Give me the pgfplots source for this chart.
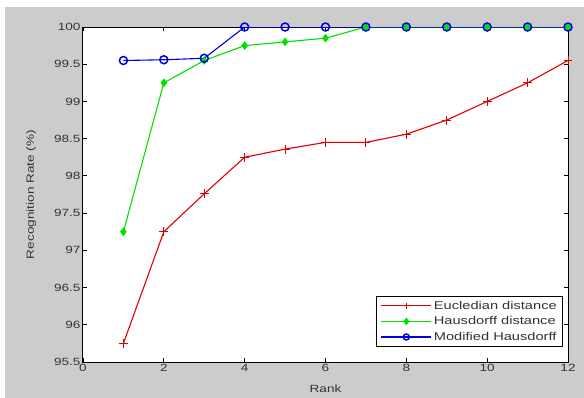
\documentclass[border=0pt]{standalone}
\usepackage{pgfplots}
\pgfplotsset{compat=1.18}
\usepackage{fontspec}
\setmainfont{Liberation Sans}[FakeStretch=1.3]
\definecolor{bggray}{RGB}{204,204,204}
\definecolor{mred}{RGB}{225,0,0}
\definecolor{mgreen}{RGB}{0,225,0}
\definecolor{mblue}{RGB}{0,0,225}
\begin{document}
\begin{tikzpicture}[x=1bp,y=1bp]
\fill[white] (-83bp,-36bp) rectangle (501bp,362bp);
\fill[bggray] (-78bp,-36bp) rectangle (501bp,355bp);
\begin{axis}[
  at={(0,0)}, anchor=south west,
  scale only axis, width=485bp, height=335bp,
  xmin=0, xmax=12, ymin=95.5, ymax=100,
  xtick={0,2,...,12},
  ytick={95.5,96,96.5,97,97.5,98,98.5,99,99.5,100},
  /pgf/number format/assume math mode=true,
  tick align=inside,
  tick style={black, line width=0.8bp},
  major tick length=4bp,
  axis line style={black, line width=1bp},
  axis background/.style={fill=white},
  ticklabel style={font=\fontsize{10.5}{11}\selectfont, text=black!80},
  xticklabel style={yshift=1bp},
  yticklabel style={xshift=1bp, /pgf/number format/.cd, fixed, precision=1},
  xlabel={Rank}, ylabel={Recognition Rate (\%)},
  label style={font=\fontsize{10.5}{11}\selectfont, text=black!80},
  xlabel style={at={(axis description cs:0.5,-0.081)}, anchor=center},
  ylabel style={at={(axis description cs:-0.107,0.5)}, anchor=center},
  legend style={at={(axis description cs:0.99,0.197)}, anchor=north east, draw=black, fill=white,
    font=\fontsize{11.3}{12}\selectfont, row sep=2bp, inner xsep=4bp, inner ysep=2.5bp, text=black!80,
    line width=0.8bp},
  legend cell align=left,
  legend image code/.code={
    \draw[#1] (0bp,0bp) -- (50bp,0bp);
    \draw[#1, only marks, mark size=3pt] plot coordinates {(25bp,0bp)};
  },
]
\addplot[mred, line width=1.1bp, mark=+, mark size=4.5pt, mark options={solid, mred, line width=1bp}] coordinates {
(1,95.75) (2,97.25) (3,97.76) (4,98.25) (5,98.36) (6,98.45) (7,98.45) (8,98.56) (9,98.75) (10,99.0) (11,99.25) (12,99.55)};
\addlegendentry{Eucledian distance}
\addplot[mgreen, line width=1.1bp, mark=diamond*, mark size=3.5pt] coordinates {
(1,97.25) (2,99.25) (3,99.55) (4,99.75) (5,99.8) (6,99.85) (7,100) (8,100) (9,100) (10,100) (11,100) (12,100)};
\addlegendentry{Hausdorff distance}
\addplot[mblue, line width=1.1bp, mark=o, mark size=4pt, mark options={line width=1.5bp}] coordinates {
(1,99.55) (2,99.56) (3,99.58) (4,100) (5,100) (6,100) (7,100) (8,100) (9,100) (10,100) (11,100) (12,100)};
\addlegendentry{Modified Hausdorff}
\end{axis}
\end{tikzpicture}
\end{document}
